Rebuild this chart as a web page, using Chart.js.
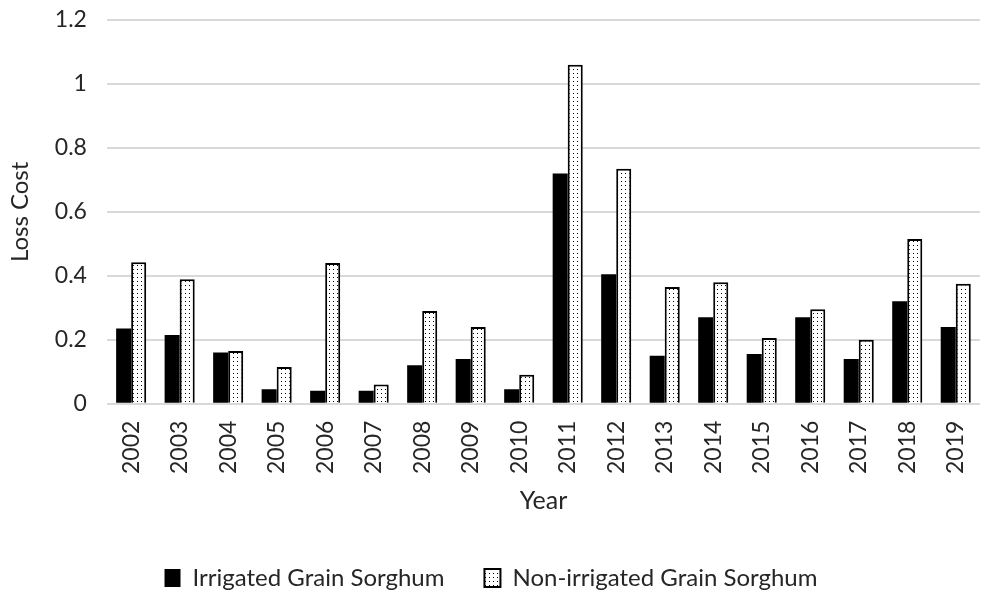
<!DOCTYPE html>
<html>
<head>
<meta charset="utf-8">
<script src="https://cdn.jsdelivr.net/npm/chart.js@4.4.0/dist/chart.umd.min.js"></script>
<style>
  html, body { margin: 0; padding: 0; background: #fff; }
  #wrap { width: 984px; height: 592px; }
</style>
</head>
<body>
<div id="wrap"><canvas id="chart"></canvas></div>
<script>
const years = ["2002", "2003", "2004", "2005", "2006", "2007", "2008", "2009", "2010",
  "2011", "2012", "2013", "2014", "2015", "2016", "2017", "2018", "2019"];
const irrigated = [0.235, 0.215, 0.16, 0.045, 0.04, 0.04, 0.12, 0.14, 0.045,
  0.72, 0.405, 0.15, 0.27, 0.155, 0.27, 0.14, 0.32, 0.24];
const nonIrrigated = [0.442, 0.389, 0.165, 0.115, 0.44, 0.06, 0.29, 0.24, 0.09,
  1.06, 0.735, 0.365, 0.38, 0.205, 0.295, 0.2, 0.515, 0.375];
const yTicks = [0, 0.2, 0.4, 0.6, 0.8, 1, 1.2];

// dotted fill for the non-irrigated bars
function dotPattern() {
  const c = document.createElement("canvas");
  c.width = 4;
  c.height = 4;
  const g = c.getContext("2d");
  g.fillStyle = "#fff";
  g.fillRect(0, 0, 4, 4);
  g.fillStyle = "#000";
  g.fillRect(1, 1, 1, 1);
  return g.createPattern(c, "repeat");
}

const font = "Lato, 'Open Sans', sans-serif";
Chart.defaults.font.family = font;
Chart.defaults.color = "#262626";

new Chart(document.getElementById("chart"), {
  type: "bar",
  data: {
    labels: years,
    datasets: [
      {
        label: "Irrigated Grain Sorghum",
        data: irrigated,
        backgroundColor: "#000",
        borderColor: "#000",
        borderWidth: 0
      },
      {
        label: "Non-irrigated Grain Sorghum",
        data: nonIrrigated,
        backgroundColor: dotPattern(),
        borderColor: "#000",
        borderWidth: 2
      }
    ]
  },
  options: {
    responsive: true,
    maintainAspectRatio: false,
    animation: false,
    categoryPercentage: 0.62,
    barPercentage: 1,
    layout: { padding: { left: 2, right: 4, top: 0, bottom: -8 } },
    scales: {
      x: {
        grid: { display: false },
        border: { display: false },
        afterFit: s => {
          s.paddingTop = 0;
          s.paddingLeft = 0;
          s.paddingRight = 0;
        },
        ticks: {
          color: "#262626",
          font: { size: 23 },
          minRotation: 90,
          maxRotation: 90,
          padding: 9
        },
        title: {
          display: true,
          text: "Year",
          color: "#262626",
          font: { size: 25 },
          padding: { top: 3, bottom: 10 }
        }
      },
      y: {
        min: 0,
        max: 1.2,
        afterBuildTicks: axis => {
          axis.ticks = yTicks.map(v => ({ value: v }));
        },
        afterFit: s => { s.paddingTop = 20; },
        grid: { color: "#d9d9d9", lineWidth: 2, drawTicks: false },
        border: { display: false },
        ticks: {
          color: "#262626",
          font: { size: 23 },
          padding: 20,
          callback: v => String(v)
        },
        title: {
          display: true,
          text: "Loss Cost",
          color: "#262626",
          font: { size: 24 },
          padding: { bottom: 0 }
        }
      }
    },
    plugins: {
      legend: {
        position: "bottom",
        labels: {
          color: "#262626",
          font: { size: 24 },
          boxWidth: 16,
          boxHeight: 18,
          padding: 40
        }
      },
      tooltip: { enabled: false }
    }
  }
});
</script>
</body>
</html>
